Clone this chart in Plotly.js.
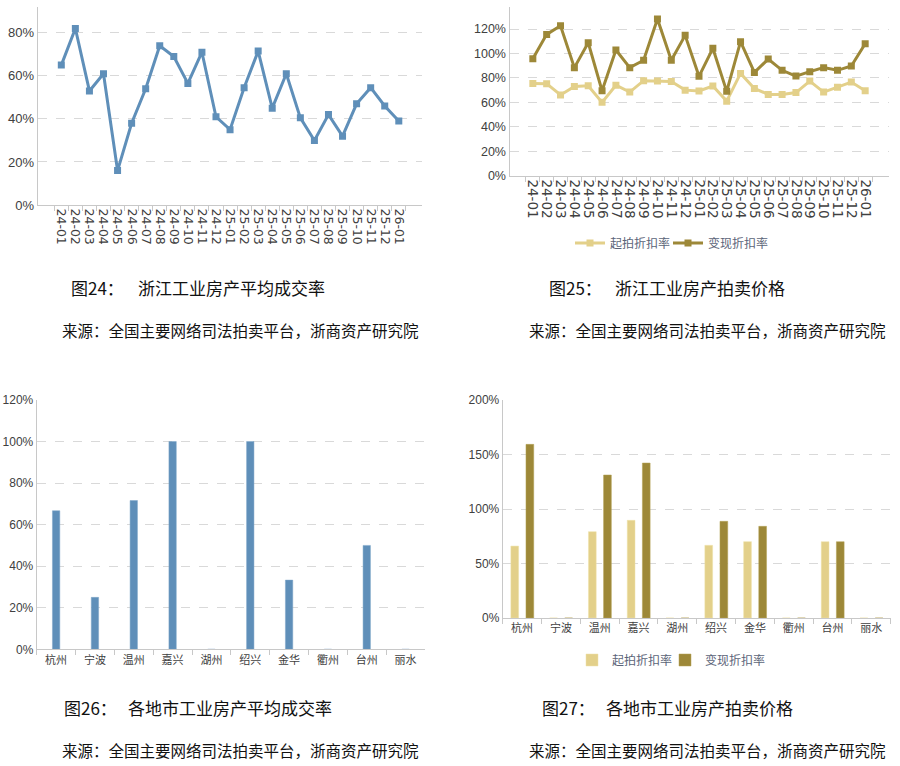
<!DOCTYPE html>
<html>
<head>
<meta charset="utf-8">
<script src="https://cdn.plot.ly/plotly-3.0.1.min.js"></script>
<style>
html,body{margin:0;padding:0;background:#fff;}
#chart{width:900px;height:766px;}
</style>
</head>
<body>
<div id="chart"></div>
<script>
// ---- Data ----
const months = ["24-01","24-02","24-03","24-04","24-05","24-06","24-07","24-08","24-09","24-10","24-11","24-12",
  "25-01","25-02","25-03","25-04","25-05","25-06","25-07","25-08","25-09","25-10","25-11","25-12","26-01"];
// 图24 浙江工业房产平均成交率 (%)
const dealRate = [65,82,53,61,16,38,54,74,69,56.5,71,41,35,54.5,71.5,45,61,40.5,30,42,32,47,54.5,46,39];
// 图25 浙江工业房产拍卖价格 (%)
const startDiscount = [75.5,75.3,66,73,73.6,60,74,68.4,77.7,77.4,77,70,69.3,73.4,61,83.7,71.4,66.5,66.5,68,77.4,68.4,72.3,76.6,69.5];
const realizeDiscount = [95.7,115.6,122.7,88.4,108.8,69.5,102.8,88.4,94.4,128.2,94.4,114.8,81.3,104.2,69,109.6,84.5,95.4,86.2,81.5,85.1,88.4,86.2,89.7,108];
// 图26 / 图27 各地市
const cities = ["杭州","宁波","温州","嘉兴","湖州","绍兴","金华","衢州","台州","丽水"];
const cityDealRate = [66.7,25,71.6,100,0,100,33.3,0,50,0];
const cityStartDiscount = [66,0,79.2,89.6,0,66.7,70,0,70,0];
const cityRealizeDiscount = [159.3,0,131.2,142.2,0,88.7,84.1,0,70,0];

const seriesNames = ["起拍折扣率","变现折扣率"];
const tickPct1 = [0,20,40,60,80];
const tickPct2 = [0,20,40,60,80,100,120];
const tickPct3 = [0,20,40,60,80,100,120];
const tickPct4 = [0,50,100,150,200];
const captions = [
  ["图24：","浙江工业房产平均成交率"],
  ["图25：","浙江工业房产拍卖价格"],
  ["图26：","各地市工业房产平均成交率"],
  ["图27：","各地市工业房产拍卖价格"]
];
const sourceText = "来源：全国主要网络司法拍卖平台，浙商资产研究院";

// ---- Styles ----
const W = 900, H = 766;
const px = v => v / W;
const py = v => 1 - v / H;
const blue = "#5f8fb9";
const lightGold = "#e3d08a";
const darkGold = "#9d8838";
const gridCol = "#d9d9d9";
const axisCol = "#c8c8c8";
const tickFont = {family: "Liberation Sans, Arial, sans-serif", size: 13, color: "#404040"};
const narrowFont = s => ({family: "Liberation Sans Narrow, Liberation Sans, Arial, sans-serif", size: s, color: "#404040"});
const cjkFont = (s, c) => ({family: "Noto Sans CJK SC, sans-serif", size: s, color: c || "#404040"});

const traces = [
  {type: "scatter", mode: "lines+markers", x: months, y: dealRate, xaxis: "x", yaxis: "y",
   line: {color: blue, width: 3}, marker: {symbol: "square", size: 7, color: blue}, showlegend: false},
  {type: "scatter", mode: "lines+markers", x: months, y: startDiscount, xaxis: "x2", yaxis: "y2",
   name: seriesNames[0], legend: "legend",
   line: {color: lightGold, width: 3}, marker: {symbol: "square", size: 7, color: lightGold}},
  {type: "scatter", mode: "lines+markers", x: months, y: realizeDiscount, xaxis: "x2", yaxis: "y2",
   name: seriesNames[1], legend: "legend2",
   line: {color: darkGold, width: 3}, marker: {symbol: "square", size: 7, color: darkGold}},
  {type: "bar", x: cities, y: cityDealRate, xaxis: "x3", yaxis: "y3", width: 0.19,
   marker: {color: blue, line: {color: "#7fa6c9", width: 0.5}}, showlegend: false},
  {type: "bar", x: cities, y: cityStartDiscount, xaxis: "x4", yaxis: "y4", width: 0.2, offset: -0.29,
   name: seriesNames[0], legend: "legend3", marker: {color: lightGold, line: {color: "#efe2a8", width: 0.5}}},
  {type: "bar", x: cities, y: cityRealizeDiscount, xaxis: "x4", yaxis: "y4", width: 0.2, offset: 0.1,
   name: seriesNames[1], legend: "legend4", marker: {color: darkGold, line: {color: "#b5a257", width: 0.5}}}
];

function catAxis(domain, anchor, font, angle) {
  return {domain: domain, anchor: anchor, type: "category", showline: true, linecolor: axisCol, linewidth: 1,
    ticks: "outside", tickson: "boundaries", ticklen: 5, tickcolor: axisCol, showgrid: false,
    tickmode: "linear", tick0: 0, dtick: 1,
    tickfont: font, tickangle: angle, automargin: false, fixedrange: true};
}
function valAxis(domain, anchor, range, tickvals, font) {
  return {domain: domain, anchor: anchor, range: range, tickmode: "array", tickvals: tickvals,
    ticktext: tickvals.map(v => v + "%"),
    showline: true, linecolor: axisCol, linewidth: 1, ticks: "", showgrid: true, gridcolor: gridCol,
    griddash: "dash", gridwidth: 1, zeroline: false, tickfont: font, automargin: false, fixedrange: true};
}

const legendBase = {orientation: "h", xanchor: "left", yanchor: "middle",
  font: cjkFont(12, "#5b6478"), itemwidth: 30, bgcolor: "rgba(0,0,0,0)", traceorder: "normal"};

const layout = {
  width: W, height: H, margin: {l: 0, r: 0, t: 0, b: 0},
  paper_bgcolor: "#fff", plot_bgcolor: "#fff",
  barmode: "overlay",
  xaxis: catAxis([px(37.7), px(422.4)], "y", {family: "DejaVu Sans, sans-serif", size: 12.5, color: "#404040"}, 90),
  yaxis: valAxis([py(205), py(7)], "x", [0, 92], tickPct1, tickFont),
  xaxis2: catAxis([px(509.5), px(888.5)], "y2", {family: "DejaVu Sans, sans-serif", size: 13.5, color: "#404040"}, 90),
  yaxis2: valAxis([py(175.7), py(7)], "x2", [0, 138], tickPct2, {family: "Liberation Sans, Arial, sans-serif", size: 12.5, color: "#404040"}),
  xaxis3: catAxis([px(36.7), px(425)], "y3", cjkFont(11), 0),
  yaxis3: valAxis([py(649.3), py(400)], "x3", [0, 120], tickPct3, narrowFont(12)),
  xaxis4: catAxis([px(502.7), px(890.7)], "y4", cjkFont(11), 0),
  yaxis4: valAxis([py(618), py(400)], "x4", [0, 200], tickPct4, narrowFont(12)),
  legend: Object.assign({}, legendBase, {x: px(570), y: py(243)}),
  legend2: Object.assign({}, legendBase, {x: px(668), y: py(243)}),
  legend3: Object.assign({}, legendBase, {x: px(572), y: py(660)}),
  legend4: Object.assign({}, legendBase, {x: px(665), y: py(660)}),
  annotations: []
};

const capPos = [
  {fx: 69, tx: 136, cy: 287, sx: 60, sy: 330},
  {fx: 547, tx: 613, cy: 287, sx: 527, sy: 330},
  {fx: 62, tx: 126, cy: 707, sx: 60, sy: 750},
  {fx: 540, tx: 604, cy: 707, sx: 527, sy: 750}
];
captions.forEach((c, i) => {
  const p = capPos[i];
  layout.annotations.push({xref: "paper", yref: "paper", x: px(p.fx), y: py(p.cy), xanchor: "left", yanchor: "middle",
    text: c[0], showarrow: false, font: cjkFont(17, "#111")});
  layout.annotations.push({xref: "paper", yref: "paper", x: px(p.tx), y: py(p.cy), xanchor: "left", yanchor: "middle",
    text: c[1], showarrow: false, font: cjkFont(17, "#111")});
  layout.annotations.push({xref: "paper", yref: "paper", x: px(p.sx), y: py(p.sy), xanchor: "left", yanchor: "middle",
    text: sourceText, showarrow: false, font: cjkFont(15.5, "#111")});
});

Plotly.newPlot("chart", traces, layout, {displayModeBar: false, staticPlot: true});
</script>
</body>
</html>
